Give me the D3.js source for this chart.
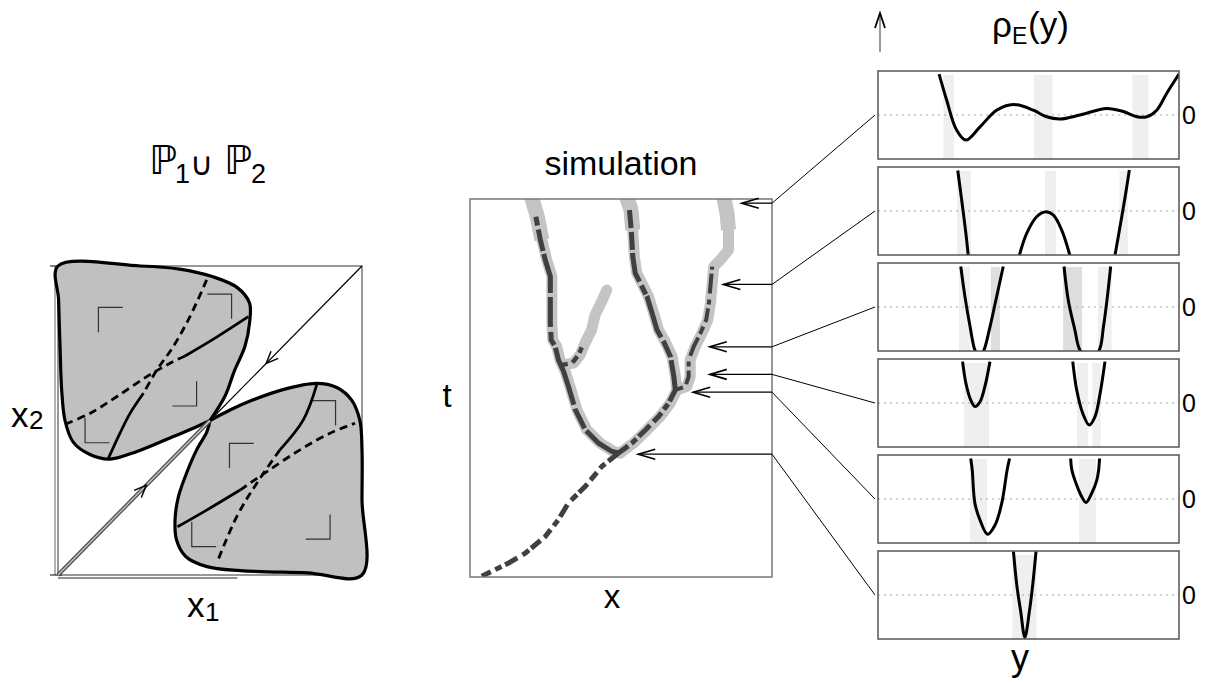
<!DOCTYPE html>
<html>
<head>
<meta charset="utf-8">
<script src="https://cdn.jsdelivr.net/npm/d3@7"></script>
<style>
  body { margin: 0; background: #fff; }
  text { font-family: "Liberation Sans", Arial, sans-serif; fill: #000; }
</style>
</head>
<body>
<svg id="chart" width="1215" height="684"></svg>
<script>
// ---------- left panel: phase plane (x1, x2 in [0,1]) ----------
const lobeUpper = [[0.5,0.5],[0.445,0.475],[0.36,0.44],[0.26,0.40],[0.17,0.375],[0.105,0.39],[0.05,0.43],
  [0.023,0.50],[0.012,0.60],[0.007,0.73],[0.002,0.89],[0.0,1.0],[0.27,1.0],[0.40,0.99],[0.51,0.965],
  [0.59,0.93],[0.63,0.88],[0.63,0.815],[0.615,0.74],[0.58,0.66],[0.55,0.58],[0.5,0.5]]
const lobeLower = [[0.5,0.5],[0.566,0.534],[0.64,0.566],[0.74,0.60],[0.85,0.62],[0.917,0.607],[0.966,0.566],
  [0.993,0.50],[1.0,0.405],[1.0,0.243],[1.0,0.0],[0.82,0.007],[0.60,0.014],[0.49,0.027],[0.42,0.06],
  [0.39,0.113],[0.385,0.178],[0.396,0.253],[0.423,0.33],[0.456,0.405],[0.49,0.464],[0.5,0.5]]
// inner manifolds: solid part + dashed part
const solidCurves = [
  [[0.626,0.836],[0.522,0.77],[0.418,0.709]],
  [[0.281,0.588],[0.237,0.523],[0.204,0.459],[0.166,0.378]],
  [[0.393,0.156],[0.489,0.21],[0.599,0.275]],
  [[0.851,0.615],[0.807,0.502],[0.73,0.405]]
]
const dashedCurves = [
  [[0.418,0.709],[0.368,0.685],[0.292,0.642],[0.193,0.577],[0.105,0.523],[0.029,0.49]],
  [[0.489,0.955],[0.434,0.836],[0.379,0.739],[0.325,0.663],[0.281,0.588]],
  [[0.599,0.275],[0.686,0.334],[0.796,0.405],[0.895,0.459],[0.977,0.491]],
  [[0.73,0.405],[0.654,0.297],[0.588,0.189],[0.522,0.038]]
]
// corner marks: corner point and arm directions
const corners = [
  [0.133,0.866, 1,-1],[0.571,0.909,-1,-1],[0.456,0.547,-1, 1],[0.089,0.428, 1, 1],
  [0.564,0.426, 1,-1],[0.913,0.564,-1,-1],[0.895,0.116,-1, 1],[0.44,0.092, 1, 1]
]
const diagArrows = [[0.685,-1],[0.29,1]]

// ---------- middle panel: simulation (x, t in [0,100]) ----------
const trunk = [[4.4,0.2],[13.3,3.7],[18.8,6.3],[25.4,10.7],[29.8,15.2],[33.1,19.6],[38.7,24.0],[44.2,29.3],[49.7,32.8]]
const leftBranch = [[49.7,32.8],[47.5,33.2],[43.1,35.4],[38.7,38.9],[35.4,44.2],[33.1,50.4],[31.5,54.4],[29.8,57.4],
  [28.7,61.0],[27.4,62.7],[27.1,67.1],[27.1,79.5],[25.4,83.9],[23.8,89.2],[22.3,95.3],[20.4,100.5]]
const leftSub = [[30.9,56.1],[34.3,56.6],[36.5,58.8],[38.1,61.9],[40.3,65.4],[41.4,69.3],[43.6,72.9],[45.3,75.9]]
const rightBranch = [[49.7,32.8],[54.1,35.4],[58.6,38.9],[63.0,42.5],[66.3,46.0],[68.5,49.5]]
const rightInner = [[68.5,49.5],[68.0,53.0],[66.9,58.3],[64.6,62.3],[62.4,65.4],[60.8,69.8],[59.1,74.2],[56.9,77.7],
  [55.2,80.4],[54.4,84.8],[53.9,91.8],[53.3,97.1],[51.9,100.5]]
const rightOuter = [[68.5,49.5],[71.8,50.4],[72.9,53.0],[72.9,57.4],[74.6,61.0],[76.8,64.5],[78.7,68.0],[79.6,72.4],
  [80.1,76.8],[80.7,82.1],[82.9,83.9],[85.6,86.5],[85.6,91.8],[85.1,96.2],[84.0,100.5]]
const arrowT = [98.9, 77.4, 60.9, 53.6, 48.9, 32.5]
const arrowTipX = [90.0, 83.9, 79.4, 79.4, 73.9, 55.7]

// ---------- right panels: rho_E(y) ----------
const panelCurves = [
  [[[20.3,0.93],[22.8,0.34],[26.1,-0.34],[29.2,-0.57],[33.9,-0.27],[39.4,0.11],[45.0,0.24],[51.6,0.11],[56.0,-0.04],
    [60.5,-0.09],[67.1,0.0],[76.0,0.15],[81.5,0.08],[86.0,-0.04],[89.3,-0.04],[92.6,0.11],[95.9,0.49],[100,0.93]]],
  [[[26.5,0.92],[27.8,0.25],[29.2,-0.51],[30.0,-1.02]],
   [[46.9,-1.02],[49.4,-0.51],[52.7,-0.13],[55.5,-0.02],[58.2,-0.09],[61.0,-0.43],[63.8,-1.02]],
   [[78.7,-1.02],[80.4,-0.36],[82.1,0.32],[83.5,0.93]]],
  [[[27.5,0.92],[28.9,0.23],[30.6,-0.45],[32.2,-0.98],[33.7,-1.15],[35.2,-0.98],[37.2,-0.45],[39.4,0.23],[41.6,0.92]],
   [[61.8,0.92],[63.2,0.16],[65.4,-0.52],[67.1,-0.98],[70.3,-1.2],[73.5,-0.98],[74.9,-0.45],[76.2,0.23],[77.3,0.92]]],
  [[[28.1,0.94],[29.2,0.45],[30.8,0.07],[32.2,-0.08],[33.9,0.03],[35.5,0.37],[37.2,0.94]],
   [[64.7,0.94],[66.0,0.30],[68.0,-0.23],[70.2,-0.5],[72.1,-0.31],[73.8,0.22],[75.4,0.94]]],
  [[[30.8,0.92],[31.3,0.66],[32.2,-0.10],[33.9,-0.48],[36.4,-0.80],[38.9,-0.59],[41.1,-0.10],[42.9,0.66],[43.7,0.92]],
   [[64.0,0.92],[64.4,0.66],[66.0,0.32],[67.7,0.05],[69.1,-0.08],[71.0,0.13],[72.7,0.43],[73.3,0.66],[73.6,0.92]]],
  [[[45.0,0.99],[46.1,0.23],[47.4,-0.37],[48.8,-0.96],[50.3,-0.37],[51.4,0.23],[52.5,0.99]]]
]
const panelBands = [
  [[21.7,25.2,'a'],[51.8,58.0,'a'],[84.5,89.9,'a']],
  [[26.3,30.8,'a'],[55.5,59.1,'a'],[80.2,83.0,'a']],
  [[26.9,30.6,'a'],[37.5,40.5,'b'],[61.5,67.8,'b'],[73.1,77.6,'a']],
  [[28.6,36.9,'a'],[66.1,69.8,'a'],[71.2,74.0,'a']],
  [[30.6,36.2,'a'],[66.8,72.4,'a']],
  [[44.6,52.7,'a']]
]
const zeroLabel = "0"

const svg = d3.select("#chart")
const defs = svg.append("defs")

const label = (x, y, txt, size, anchor, family) => {
  const t = svg.append("text").attr("x", x).attr("y", y).attr("font-size", size)
    .attr("text-anchor", anchor || "start").text(txt)
  if (family) t.style("font-family", family)
  return t
}

// ================= left panel =================
const lx = d3.scaleLinear().domain([0, 1]).range([58, 362])
const ly = d3.scaleLinear().domain([0, 1]).range([575, 266])
const lline = d3.line().x(d => lx(d[0])).y(d => ly(d[1]))
const left = svg.append("g")

left.append("rect").attr("x", lx(0)).attr("y", ly(1)).attr("width", lx(1) - lx(0)).attr("height", ly(0) - ly(1))
  .attr("fill", "none").attr("stroke", "#333").attr("stroke-width", 1)
// axis-like lines
left.append("line").attr("x1", lx(0) - 3).attr("x2", lx(0) - 3).attr("y1", ly(1)).attr("y2", ly(0))
  .attr("stroke", "#666").attr("stroke-width", 1)
left.append("line").attr("x1", lx(0) - 8).attr("x2", lx(0) + 4).attr("y1", ly(1)).attr("y2", ly(1)).attr("stroke", "#000")
left.append("line").attr("x1", lx(0) - 8).attr("x2", lx(0) + 4).attr("y1", ly(0)).attr("y2", ly(0)).attr("stroke", "#000")
left.append("line").attr("x1", lx(0)).attr("x2", lx(0.59)).attr("y1", ly(0) + 3).attr("y2", ly(0) + 3)
  .attr("stroke", "#222").attr("stroke-width", 1)

// lobes
const lobeLine = lline.curve(d3.curveCatmullRom.alpha(0.5))
;[lobeUpper, lobeLower].forEach(lobe => {
  left.append("path").attr("d", lobeLine(lobe) + "Z")
    .attr("fill", "#c0c0c0").attr("stroke", "#000").attr("stroke-width", 3.2).attr("stroke-linejoin", "round")
})

// diagonal
left.append("line").attr("x1", lx(0)).attr("y1", ly(0)).attr("x2", lx(0.5)).attr("y2", ly(0.5))
  .attr("stroke", "#555").attr("stroke-width", 4)
left.append("line").attr("x1", lx(0)).attr("y1", ly(0)).attr("x2", lx(0.5)).attr("y2", ly(0.5))
  .attr("stroke", "#ccc").attr("stroke-width", 1.2)
left.append("line").attr("x1", lx(0.5)).attr("y1", ly(0.5)).attr("x2", lx(1)).attr("y2", ly(1))
  .attr("stroke", "#000").attr("stroke-width", 1.2)

diagArrows.forEach(([p, dir]) => {
  const cx = lx(p), cy = ly(p)
  const ang = Math.atan2(ly(1) - ly(0), lx(1) - lx(0)) + (dir > 0 ? Math.PI : 0)
  const len = 13, hw = 0.4
  const a1 = [cx + len * Math.cos(ang + hw), cy + len * Math.sin(ang + hw)]
  const a2 = [cx + len * Math.cos(ang - hw), cy + len * Math.sin(ang - hw)]
  left.append("path").attr("d", `M${a1}L${cx},${cy}L${a2}`)
    .attr("fill", "none").attr("stroke", "#000").attr("stroke-width", 1.5)
})

// corner marks
const cs = 0.08
corners.forEach(([u, w, du, dw]) => {
  left.append("path")
    .attr("d", `M${lx(u + du * cs)},${ly(w)}L${lx(u)},${ly(w)}L${lx(u)},${ly(w + dw * cs)}`)
    .attr("fill", "none").attr("stroke", "#333").attr("stroke-width", 1.2)
})

// manifolds
const innerLine = d3.line().x(d => lx(d[0])).y(d => ly(d[1])).curve(d3.curveCatmullRom.alpha(0.5))
solidCurves.forEach(c => left.append("path").attr("d", innerLine(c))
  .attr("fill", "none").attr("stroke", "#000").attr("stroke-width", 2.8))
dashedCurves.forEach(c => left.append("path").attr("d", innerLine(c))
  .attr("fill", "none").attr("stroke", "#000").attr("stroke-width", 2.8).attr("stroke-dasharray", "8,5"))

const dj = "'DejaVu Sans', sans-serif"
label(149, 174, "\u2119", 40, "start", dj)
label(175, 183, "1", 27)
label(190, 175, "\u222A", 32, "start", dj)
label(224, 174, "\u2119", 40, "start", dj)
label(251, 183, "2", 27)
label(11, 427, "x", 35)
label(29, 429, "2", 26)
label(187, 617, "x", 35)
label(205, 621, "1", 26)

// ================= middle panel =================
const sx = d3.scaleLinear().domain([0, 100]).range([470, 772])
const st = d3.scaleLinear().domain([0, 100]).range([577, 199])
const sline = d3.line().x(d => sx(d[0])).y(d => st(d[1]))
defs.append("clipPath").attr("id", "simclip").append("rect")
  .attr("x", sx(0)).attr("y", st(100)).attr("width", sx(100) - sx(0)).attr("height", st(0) - st(100))
const sim = svg.append("g").attr("clip-path", "url(#simclip)")

const bands = [leftBranch, leftSub, rightBranch, rightInner, rightOuter]
bands.forEach(b => sim.append("path").attr("d", sline(b))
  .attr("fill", "none").attr("stroke", "#c4c4c4").attr("stroke-width", 11)
  .attr("stroke-linejoin", "round").attr("stroke-linecap", "round"))
// wider light tops
;[leftBranch, rightInner, rightOuter].forEach(b => sim.append("path")
  .attr("d", sline(b.filter(d => d[1] > 88)))
  .attr("fill", "none").attr("stroke", "#c4c4c4").attr("stroke-width", 15).attr("stroke-linejoin", "round"))

const dark = (pts, dash, w) => sim.append("path").attr("d", sline(pts))
  .attr("fill", "none").attr("stroke", "#404040").attr("stroke-width", w)
  .attr("stroke-dasharray", dash).attr("transform", "translate(-1.5,0)")
dark(trunk, "10,5,7,4,14,6,8,3,12,5", 5)
dark(leftBranch.filter(d => d[1] < 97), "40,3,22,4,60,3,14,5,30,4", 5)
dark(leftSub.filter(d => d[1] < 63), "6,5,8,4", 4.5)
dark(rightBranch, "12,4,7,3,16,5", 5)
dark(rightInner.filter(d => d[1] < 98), "30,3,18,4,44,2,10,4", 5)
dark(rightOuter.filter(d => d[1] < 83), "8,5,14,4,5,6,20,4", 4)

svg.append("rect").attr("x", sx(0)).attr("y", st(100)).attr("width", sx(100) - sx(0)).attr("height", st(0) - st(100))
  .attr("fill", "none").attr("stroke", "#777").attr("stroke-width", 1.5)

label(621, 175, "simulation", 34, "middle")
label(447, 407, "t", 33, "middle")
label(612, 608, "x", 33, "middle")

// ================= right panels =================
const ry = d3.scaleLinear().domain([0, 100]).range([878, 1179])
const panelTop = d3.scaleLinear().domain([0, 1]).range([71, 167])
const ph = 88
const bandColor = { a: "#efefef", b: "#dedede" }

panelCurves.forEach((segs, i) => {
  const top = panelTop(i)
  const rv = d3.scaleLinear().domain([-1, 1]).range([top + ph, top])
  defs.append("clipPath").attr("id", "pclip" + i).append("rect")
    .attr("x", ry(0)).attr("y", top).attr("width", ry(100) - ry(0)).attr("height", ph)
  const g = svg.append("g")
  const inner = g.append("g").attr("clip-path", `url(#pclip${i})`)
  panelBands[i].forEach(([a, b, c]) => inner.append("rect")
    .attr("x", ry(a)).attr("width", ry(b) - ry(a)).attr("y", top + 4).attr("height", ph - 4)
    .attr("fill", bandColor[c]))
  inner.append("line").attr("x1", ry(0)).attr("x2", ry(100)).attr("y1", rv(0)).attr("y2", rv(0))
    .attr("stroke", "#aaa").attr("stroke-width", 1.2).attr("stroke-dasharray", "2,4")
  const cl = d3.line().x(d => ry(d[0])).y(d => rv(d[1])).curve(d3.curveCatmullRom.alpha(0.5))
  segs.forEach(s => inner.append("path").attr("d", cl(s))
    .attr("fill", "none").attr("stroke", "#000").attr("stroke-width", 3))
  g.append("rect").attr("x", ry(0)).attr("y", top).attr("width", ry(100) - ry(0)).attr("height", ph)
    .attr("fill", "none").attr("stroke", "#555").attr("stroke-width", 1.5)
  label(ry(100) + 3, rv(0) + 9, zeroLabel, 25)

  // arrow from simulation to panel
  const ay = st(arrowT[i]), tip = sx(arrowTipX[i])
  svg.append("line").attr("x1", tip).attr("x2", sx(100)).attr("y1", ay).attr("y2", ay)
    .attr("stroke", "#000").attr("stroke-width", 1.3)
  svg.append("path").attr("d", `M${tip + 17},${ay - 5}L${tip},${ay}L${tip + 17},${ay + 5}`)
    .attr("fill", "none").attr("stroke", "#000").attr("stroke-width", 1.6)
  svg.append("line").attr("x1", sx(100)).attr("y1", ay).attr("x2", ry(0) - 3).attr("y2", rv(0))
    .attr("stroke", "#000").attr("stroke-width", 1)
})

// up arrow and titles
svg.append("line").attr("x1", 880).attr("x2", 880).attr("y1", 52).attr("y2", 14)
  .attr("stroke", "#555").attr("stroke-width", 1.2)
svg.append("path").attr("d", "M875,28L880,13L885,28").attr("fill", "none")
  .attr("stroke", "#000").attr("stroke-width", 1.8)
label(992, 37, "\u03C1", 35)
label(1012, 44, "E", 23)
label(1028, 37, "(y)", 35)
label(1020, 670, "y", 36, "middle")
</script>
</body>
</html>
